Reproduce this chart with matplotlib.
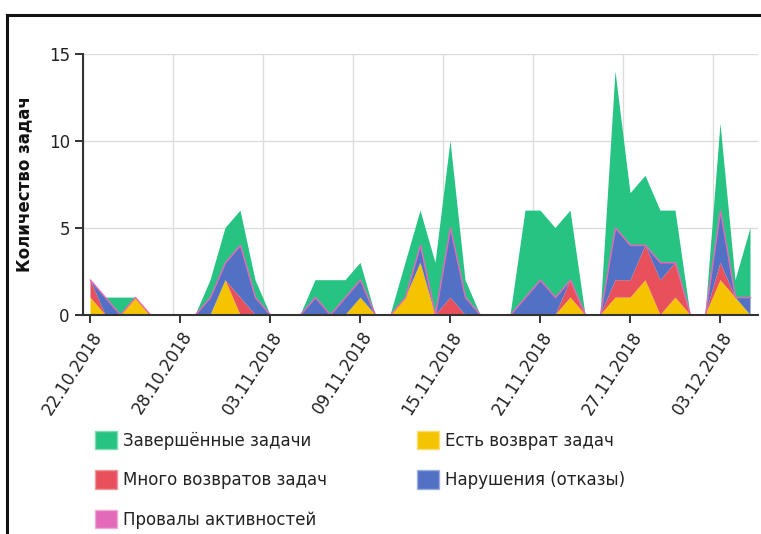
import matplotlib
matplotlib.use("Agg")
import matplotlib.pyplot as plt
import matplotlib.dates as mdates
from matplotlib.patches import Patch
import numpy as np
import pandas as pd

# daily task counts, 22.10.2018 - 05.12.2018
days = pd.date_range("2018-10-22", "2018-12-05", freq="D")

returned = [1, 0, 0, 1, 0, 0, 0, 0, 0, 2, 0, 0, 0, 0, 0, 0, 0, 0, 1, 0, 0, 1, 3,
            0, 0, 0, 0, 0, 0, 0, 0, 0, 1, 0, 0, 1, 1, 2, 0, 1, 0, 0, 2, 1, 0]
many_returns = [1, 0, 0, 0, 0, 0, 0, 0, 0, 0, 1, 0, 0, 0, 0, 0, 0, 0, 0, 0, 0, 0, 0,
                0, 1, 0, 0, 0, 0, 0, 0, 0, 1, 0, 0, 1, 1, 2, 2, 2, 0, 0, 1, 0, 0]
violations = [0, 1, 0, 0, 0, 0, 0, 0, 1, 1, 3, 1, 0, 0, 0, 1, 0, 1, 1, 0, 0, 0, 1,
              0, 4, 1, 0, 0, 0, 1, 2, 1, 0, 0, 0, 3, 2, 0, 1, 0, 0, 0, 3, 0, 1]
failures = [0] * 45
completed = [0, 0, 1, 0, 0, 0, 0, 0, 1, 2, 2, 1, 0, 0, 0, 1, 2, 1, 1, 0, 0, 2, 2,
             3, 5, 1, 0, 0, 0, 5, 4, 4, 4, 0, 0, 9, 3, 4, 3, 3, 0, 0, 5, 1, 4]

labels = ["Завершённые задачи", "Есть возврат задач", "Много возвратов задач",
          "Нарушения (отказы)", "Провалы активностей"]
c_green, c_yellow, c_red, c_blue, c_pink = "#27c382", "#f5c400", "#e8505b", "#5271c4", "#e26ab8"

fig = plt.figure(figsize=(7.61, 5.34), dpi=100)
ax = fig.add_axes([83 / 761, 1 - 315 / 534, 675 / 761, 261 / 534])

ax.stackplot(days, returned, many_returns, violations, failures, completed,
             colors=[c_yellow, c_red, c_blue, c_pink, c_green], lw=0)
top_of_failures = np.array(returned) + np.array(many_returns) + np.array(violations) + np.array(failures)
ax.plot(days, top_of_failures, color=c_pink, lw=1.1)

half = pd.Timedelta(hours=12)
ax.set_xlim(days[0] - half, days[-1] + half)
ax.set_ylim(0, 15)

ticks = days[::6]
ax.set_xticks(ticks)
ax.set_xticks(ticks - half, minor=True)
ax.xaxis.set_major_formatter(mdates.DateFormatter("%d.%m.%Y"))
ax.set_yticks([0, 5, 10, 15])

ax.grid(True, which="minor", axis="x", color="#dcdcdc", lw=1)
ax.grid(True, which="major", axis="y", color="#dcdcdc", lw=1)
ax.set_axisbelow(True)
ax.tick_params(axis="x", which="minor", length=0)
ax.tick_params(axis="both", which="major", colors="#222222", labelsize=12,
               length=6, width=1.3)
plt.setp(ax.get_xticklabels(), rotation=57, ha="right", rotation_mode="anchor")

for s in ["top", "right"]:
    ax.spines[s].set_visible(False)
for s in ["left", "bottom"]:
    ax.spines[s].set_color("#333333")
    ax.spines[s].set_linewidth(1.5)

ax.set_ylabel("Количество задач", fontsize=12, fontweight="bold", color="#111111")
ax.yaxis.set_label_coords(-50 / 675, 0.5)

# legend in two columns
leg_kw = dict(frameon=False, fontsize=12, handlelength=1.3, handleheight=1.3,
              handletextpad=0.4, labelspacing=1.25, borderpad=0, borderaxespad=0,
              loc="upper left")
col1 = [Patch(facecolor=c_green, edgecolor="#7fdcb5", label=labels[0]),
        Patch(facecolor=c_red, edgecolor="#f09aa0", label=labels[2]),
        Patch(facecolor=c_pink, edgecolor="#f0a8d8", label=labels[4])]
col2 = [Patch(facecolor=c_yellow, edgecolor="#fadc70", label=labels[1]),
        Patch(facecolor=c_blue, edgecolor="#9aaee0", label=labels[3])]
l1 = fig.legend(handles=col1, bbox_to_anchor=(95 / 761, 1 - 431 / 534), **leg_kw)
l2 = fig.legend(handles=col2, bbox_to_anchor=(417 / 761, 1 - 431 / 534), **leg_kw)
for lg in (l1, l2):
    for t in lg.get_texts():
        t.set_color("#222222")

# outer frame of the widget
fig.add_artist(plt.Line2D([7 / 761, 1.0], [1 - 15 / 534, 1 - 15 / 534],
                          transform=fig.transFigure, color="#111111", lw=2.2))
fig.add_artist(plt.Line2D([7 / 761, 7 / 761], [1 - 15 / 534, 0.0],
                          transform=fig.transFigure, color="#111111", lw=2.2))

fig.savefig("out.png", dpi=100)
